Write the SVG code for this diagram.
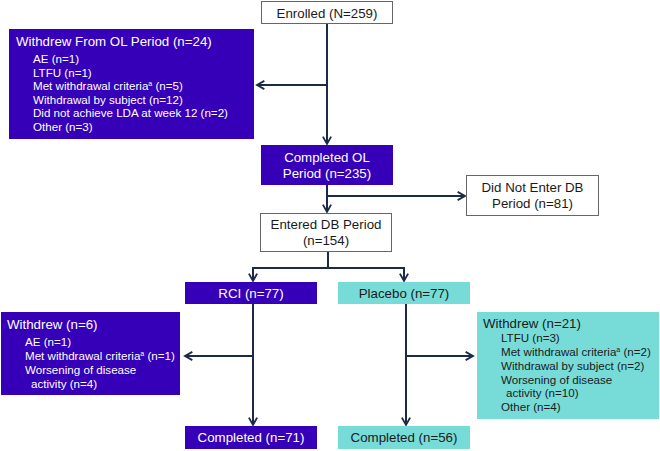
<svg xmlns="http://www.w3.org/2000/svg" width="660" height="451" viewBox="0 0 660 451">
<style>
text{font-family:"Liberation Sans",Arial,sans-serif;}
.wb{fill:#ffffff;stroke:#666666;stroke-width:1}
.bb{fill:#3600b8;stroke:none}
.tb{fill:#77dcd8;stroke:none}
.tw{fill:#ffffff}
.tk{fill:#1a1a1a}
.h{font-size:13.3px}
.i{font-size:11.6px}
.c{text-anchor:middle}
.ln{fill:none;stroke:#1b2b47;stroke-width:2}
</style>
<defs>
<marker id="ah" viewBox="0 0 10 10" refX="9" refY="5" markerWidth="5" markerHeight="5" orient="auto" markerUnits="userSpaceOnUse">
<path d="M1,1 L9,5 L1,9" fill="none" stroke="#1b2b47" stroke-width="2"/>
</marker>
<marker id="ah2" viewBox="0 0 12 12" refX="10" refY="6" markerWidth="11" markerHeight="11" orient="auto" markerUnits="userSpaceOnUse">
<path d="M2,1.5 L10,6 L2,10.5" fill="none" stroke="#1b2b47" stroke-width="2"/>
</marker>
</defs>
<g id="connectors">
<path class="ln" d="M327,24 V144" marker-end="url(#ah2)"/>
<path class="ln" d="M327,85 H257" marker-end="url(#ah2)"/>
<path class="ln" d="M327,185 V212" marker-end="url(#ah2)"/>
<path class="ln" d="M327,196 H465" marker-end="url(#ah2)"/>
<path class="ln" d="M328,252 V268"/>
<path class="ln" d="M252,268 H405"/>
<path class="ln" d="M253,268 V281" marker-end="url(#ah2)"/>
<path class="ln" d="M404,268 V281" marker-end="url(#ah2)"/>
<path class="ln" d="M253,304 V425" marker-end="url(#ah2)"/>
<path class="ln" d="M253,356 H185" marker-end="url(#ah2)"/>
<path class="ln" d="M406,304 V425" marker-end="url(#ah2)"/>
<path class="ln" d="M406,356 H473" marker-end="url(#ah2)"/>
</g>
<g id="enrolled">
<rect class="wb" x="261.5" y="1.5" width="131" height="22"/>
<text class="h c tk" x="327" y="17.5">Enrolled (N=259)</text>
</g>
<g id="withdrew-ol">
<rect class="bb" x="9" y="29" width="245" height="110"/>
<text class="h tw" x="16" y="46">Withdrew From OL Period (n=24)</text>
<text class="i tw" x="33" y="63">AE (n=1)</text>
<text class="i tw" x="33" y="76.5">LTFU (n=1)</text>
<text class="i tw" x="33" y="90">Met withdrawal criteria<tspan font-size="7" dy="-4">a</tspan><tspan dy="4"> (n=5)</tspan></text>
<text class="i tw" x="33" y="103.5">Withdrawal by subject (n=12)</text>
<text class="i tw" x="33" y="117">Did not achieve LDA at week 12 (n=2)</text>
<text class="i tw" x="33" y="130.5">Other (n=3)</text>
</g>
<g id="completed-ol">
<rect class="bb" x="261" y="145" width="132" height="40"/>
<text class="h c tw" x="327" y="162">Completed OL</text>
<text class="h c tw" x="327" y="178">Period (n=235)</text>
</g>
<g id="did-not-enter">
<rect class="wb" x="466.5" y="175.5" width="132" height="40"/>
<text class="h c tk" x="532.5" y="192">Did Not Enter DB</text>
<text class="h c tk" x="532.5" y="208">Period (n=81)</text>
</g>
<g id="entered-db">
<rect class="wb" x="260.5" y="213.5" width="131" height="38"/>
<text class="h c tk" x="326" y="229">Entered DB Period</text>
<text class="h c tk" x="326" y="245">(n=154)</text>
</g>
<g id="rci">
<rect class="bb" x="185" y="282" width="132" height="22"/>
<text class="h c tw" x="251" y="298">RCI (n=77)</text>
</g>
<g id="placebo">
<rect class="tb" x="338" y="282" width="132" height="22"/>
<text class="h c tk" x="404" y="298">Placebo (n=77)</text>
</g>
<g id="withdrew-rci">
<rect class="bb" x="1" y="312" width="179" height="83"/>
<text class="h tw" x="7" y="329">Withdrew (n=6)</text>
<text class="i tw" x="25" y="346">AE (n=1)</text>
<text class="i tw" x="25" y="360">Met withdrawal criteria<tspan font-size="7" dy="-4">a</tspan><tspan dy="4"> (n=1)</tspan></text>
<text class="i tw" x="25" y="374">Worsening of disease</text>
<text class="i tw" x="31" y="388">activity (n=4)</text>
</g>
<g id="withdrew-placebo">
<rect class="tb" x="477" y="312" width="182" height="107"/>
<text class="h tk" x="483" y="328">Withdrew (n=21)</text>
<text class="i tk" x="501" y="342">LTFU (n=3)</text>
<text class="i tk" x="501" y="356">Met withdrawal criteria<tspan font-size="7" dy="-4">a</tspan><tspan dy="4"> (n=2)</tspan></text>
<text class="i tk" x="501" y="370">Withdrawal by subject (n=2)</text>
<text class="i tk" x="501" y="383.5">Worsening of disease</text>
<text class="i tk" x="506" y="397">activity (n=10)</text>
<text class="i tk" x="501" y="411">Other (n=4)</text>
</g>
<g id="completed-rci">
<rect class="bb" x="185" y="426" width="132" height="23"/>
<text class="h c tw" x="251" y="442">Completed (n=71)</text>
</g>
<g id="completed-placebo">
<rect class="tb" x="338" y="426" width="132" height="23"/>
<text class="h c tk" x="404" y="442">Completed (n=56)</text>
</g>
</svg>
